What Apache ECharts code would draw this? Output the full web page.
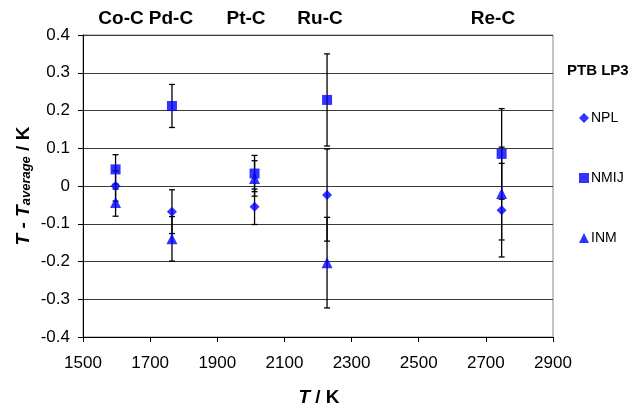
<!DOCTYPE html>
<html><head><meta charset="utf-8">
<script src="https://cdn.jsdelivr.net/npm/echarts@6/dist/echarts.min.js"></script>
<style>html,body{margin:0;padding:0;background:#fff}#c{width:639px;height:407px}</style>
</head><body><div id="c"></div>
<script>
var fixedPoints = ['Co-C', 'Pd-C', 'Pt-C', 'Ru-C', 'Re-C'];
var temperatures = [1597, 1765, 2011, 2227, 2747];
var nplValues = [0.0, -0.068, -0.055, -0.024, -0.064];
var nplUnc = [0.04, 0.058, 0.047, 0.122, 0.124];
var nmijValues = [0.044, 0.212, 0.033, 0.228, 0.085];
var nmijUnc = [0.039, 0.057, 0.048, 0.122, 0.12];
var inmValues = [-0.044, -0.140, 0.02, -0.203, -0.02];
var inmUnc = [0.036, 0.059, 0.047, 0.12, 0.123];
var seriesNames = ['NPL', 'NMIJ', 'INM'];
var labelX = [121, 171, 246, 320, 493];

var FONT = '"Liberation Sans", Arial, sans-serif';
var BLUE = '#0000ff';

function pts(vals) { return temperatures.map(function (t, i) { return [t, vals[i]]; }); }
function errs(vals, unc) { return temperatures.map(function (t, i) { return [t, vals[i] - unc[i], vals[i] + unc[i]]; }); }

function errSeries(vals, unc) {
  return {
    type: 'custom', data: errs(vals, unc), z: 1, silent: true,
    renderItem: function (params, api) {
      var x = api.value(0);
      var lo = api.coord([x, api.value(1)]);
      var hi = api.coord([x, api.value(2)]);
      var h = 3;
      var st = { stroke: '#000', lineWidth: 1.3 };
      return {
        type: 'group', children: [
          { type: 'line', shape: { x1: lo[0], y1: lo[1], x2: hi[0], y2: hi[1] }, style: st },
          { type: 'line', shape: { x1: lo[0] - h, y1: lo[1], x2: lo[0] + h, y2: lo[1] }, style: st },
          { type: 'line', shape: { x1: hi[0] - h, y1: hi[1], x2: hi[0] + h, y2: hi[1] }, style: st }
        ]
      };
    }
  };
}

var chart = echarts.init(document.getElementById('c'), null, { renderer: 'canvas' });
var graphics = fixedPoints.map(function (n, i) {
  return { type: 'text', x: labelX[i], y: 19, style: { text: n, font: 'bold 19px ' + FONT, fill: '#000', align: 'center', verticalAlign: 'middle' } };
});
graphics.push({ type: 'text', x: 567, y: 71, style: { text: 'PTB LP3', font: 'bold 15px ' + FONT, fill: '#000', align: 'left', verticalAlign: 'middle' } });
graphics.push({
  type: 'text', x: 22, y: 186, rotation: Math.PI / 2,
  style: {
    text: '{i|T - T}{s|average}{b| / K}', align: 'center', verticalAlign: 'middle',
    rich: {
      i: { font: 'italic bold 19px ' + FONT, fill: '#000', verticalAlign: 'bottom', lineHeight: 22 },
      s: { font: 'italic bold 13px ' + FONT, fill: '#000', verticalAlign: 'bottom', lineHeight: 14 },
      b: { font: 'bold 19px ' + FONT, fill: '#000', verticalAlign: 'bottom', lineHeight: 22 }
    }
  }
});
graphics.push({
  type: 'text', x: 319, y: 398,
  style: {
    text: '{i|T}{b| / K}', align: 'center', verticalAlign: 'middle',
    rich: {
      i: { font: 'italic bold 19px ' + FONT, fill: '#000' },
      b: { font: 'bold 19px ' + FONT, fill: '#000' }
    }
  }
});

var icons = ['diamond', 'rect', 'triangle'];
var legendTops = [106, 166, 226];
var legends = seriesNames.map(function (n, i) {
  return {
    orient: 'vertical', left: 574, top: legendTops[i], itemWidth: 10, itemHeight: 10, itemGap: 0,
    textStyle: { color: '#000', fontSize: 14, fontFamily: FONT, padding: [0, 0, 0, -3] },
    data: [{ name: n, icon: icons[i] }]
  };
});

chart.setOption({
  animation: false,
  backgroundColor: '#fff',
  textStyle: { fontFamily: FONT },
  grid: { left: 83, right: 86, top: 35, bottom: 70, show: true, borderColor: '#888', borderWidth: 1 },
  xAxis: {
    type: 'value', min: 1500, max: 2900, interval: 200,
    axisLine: { show: true, onZero: false, lineStyle: { color: '#000', width: 1 } },
    axisTick: { show: true, length: 5, lineStyle: { color: '#000' } },
    axisLabel: { color: '#000', fontSize: 17, fontFamily: FONT, margin: 18,
      formatter: function (v) { return String(v); } },
    splitLine: { show: false }
  },
  yAxis: {
    type: 'value', min: -0.4, max: 0.4, interval: 0.1,
    axisLine: { show: true, lineStyle: { color: '#000', width: 1 } },
    axisTick: { show: true, length: 5, lineStyle: { color: '#000' } },
    axisLabel: { color: '#000', fontSize: 17, fontFamily: FONT, margin: 13,
      formatter: function (v) { var r = Math.round(v * 10) / 10; return r === 0 ? '0' : r.toFixed(1); } },
    splitLine: { show: true, lineStyle: { color: '#3a3a3a', width: 1 } }
  },
  legend: legends,
  graphic: graphics,
  series: [
    errSeries(nplValues, nplUnc),
    errSeries(nmijValues, nmijUnc),
    errSeries(inmValues, inmUnc),
    { name: seriesNames[0], type: 'scatter', symbol: 'diamond', symbolSize: 10, itemStyle: { color: BLUE }, data: pts(nplValues), z: 3 },
    { name: seriesNames[1], type: 'scatter', symbol: 'rect', symbolSize: 10, itemStyle: { color: BLUE }, data: pts(nmijValues), z: 3 },
    { name: seriesNames[2], type: 'scatter', symbol: 'triangle', symbolSize: 11, itemStyle: { color: BLUE }, data: pts(inmValues), z: 3 }
  ]
});
</script></body></html>
